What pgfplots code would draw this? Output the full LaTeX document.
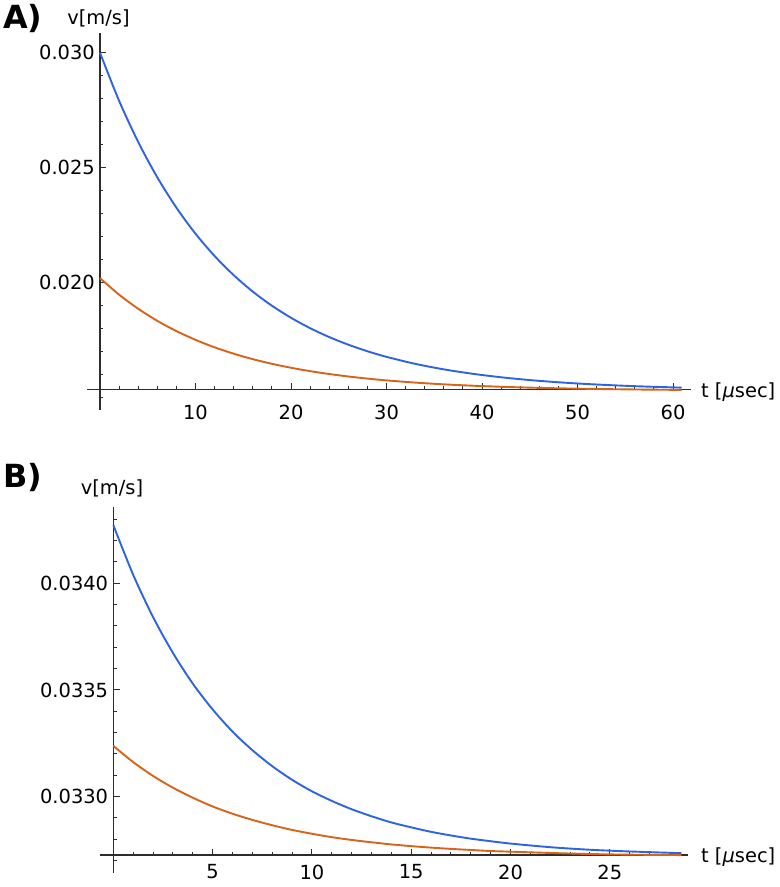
\documentclass[border=0pt]{standalone}
\usepackage{pgfplots}
\pgfplotsset{compat=1.18}
\usepackage{fontspec}
\setmainfont{DejaVu Sans}
\definecolor{mblue}{RGB}{45,100,225}
\definecolor{morange}{RGB}{215,100,25}
\definecolor{axgray}{RGB}{45,45,45}
\pgfplotsset{
  mstyle/.style={
    scale only axis,
    axis lines=middle,
    axis line style={-, axgray, line width=1.1bp},
    every tick/.style={axgray, line width=1bp},
    tick align=inside,
    major tick length=6.5bp,
    minor tick length=3.5bp,
    scaled y ticks=false,
    scaled x ticks=false,
    /pgf/number format/assume math mode=true,
    tick label style={font=\fontsize{19.5}{23}\selectfont, text=black},
    every axis plot/.append style={line width=1.9bp, smooth, no marks},
  }
}
\begin{document}
\begin{tikzpicture}
\path[use as bounding box] (0,0) rectangle (780bp,-887bp);
% Panel A
\begin{axis}[mstyle,
  at={(87bp,-410bp)}, anchor=south west,
  width=603.7bp, height=377bp,
  xmin=-1.36, xmax=61.85, ymin=0.014465, ymax=0.030857,
  axis x line shift=-20.5bp,
  xtick={10,20,30,40,50,60},
  minor xtick={2,4,...,60},
  ytick={0.020,0.025,0.030},
  minor ytick={0.015,0.016,0.017,0.018,0.019,0.021,0.022,0.023,0.024,0.026,0.027,0.028,0.029},
  yticklabel style={/pgf/number format/fixed, /pgf/number format/fixed zerofill, /pgf/number format/precision=3,
    anchor=east, inner sep=0pt, xshift=-5bp},
  xticklabel style={anchor=center, inner sep=0pt, yshift=-22.5bp},
]
\addplot[mblue] coordinates {
(0,0.030000) (2,0.027911) (4,0.026119) (6,0.024582) (8,0.023263) (10,0.022131)
(12,0.021161) (14,0.020328) (16,0.019613) (18,0.019000) (20,0.018475)
(22,0.018024) (24,0.017637) (26,0.017305) (28,0.017020) (30,0.016776)
(33,0.016473) (36,0.016232) (39,0.016041) (42,0.015888) (45,0.015767)
(48,0.015671) (51,0.015595) (54,0.015535) (57,0.015487) (60.9,0.015438)};
\addplot[morange] coordinates {
(0,0.020200) (2,0.019481) (4,0.018867) (6,0.018343) (8,0.017897) (10,0.017516)
(12,0.017190) (14,0.016913) (16,0.016676) (18,0.016474) (20,0.016302)
(22,0.016155) (24,0.016030) (26,0.015922) (28,0.015831) (30,0.015753)
(33,0.015657) (36,0.015581) (39,0.015522) (42,0.015475) (45,0.015438)
(48,0.015409) (51,0.015386) (54,0.015368) (57,0.015353) (60.9,0.015339)};
\end{axis}
% Panel B
\begin{axis}[mstyle,
  at={(100bp,-873bp)}, anchor=south west,
  width=588.3bp, height=366.3bp,
  xmin=-0.67, xmax=28.95, ymin=0.032642, ymax=0.034359,
  axis x line shift=-18bp,
  xtick={5,10,15,20,25},
  minor xtick={1,2,...,28},
  ytick={0.0330,0.0335,0.0340},
  minor ytick={0.0327,0.0328,0.0329,0.0331,0.0332,0.0333,0.0334,0.0336,0.0337,0.0338,0.0339,0.0341,0.0342,0.0343},
  yticklabel style={/pgf/number format/fixed, /pgf/number format/fixed zerofill, /pgf/number format/precision=4,
    anchor=east, inner sep=0pt, xshift=-5bp},
  xticklabel style={anchor=center, inner sep=0pt, yshift=-17bp},
]
\addplot[mblue] coordinates {
(0,0.034273) (1,0.034040) (2,0.033842) (3,0.033674) (4,0.033530) (5,0.033409)
(6,0.033305) (7,0.033218) (8,0.033143) (9,0.033079) (10,0.033025) (11,0.032980)
(12,0.032941) (13,0.032908) (14,0.032879) (15,0.032856) (16,0.032835)
(17,0.032818) (18,0.032803) (19,0.032791) (20,0.032780) (22,0.032763)
(24,0.032751) (26,0.032743) (28.6,0.032735)};
\addplot[morange] coordinates {
(0,0.033238) (1,0.033162) (2,0.033097) (3,0.033042) (4,0.032995) (5,0.032954)
(6,0.032920) (7,0.032891) (8,0.032866) (9,0.032844) (10,0.032826) (11,0.032810)
(12,0.032797) (13,0.032786) (14,0.032776) (15,0.032768) (16,0.032761)
(17,0.032755) (18,0.032750) (19,0.032745) (20,0.032742) (22,0.032736)
(24,0.032731) (26,0.032728) (28.6,0.032726)};
\end{axis}
% labels
\node[anchor=west, inner sep=0pt, font=\fontsize{32}{36}\selectfont\bfseries] at (3bp,-19bp) {A)};
\node[anchor=west, inner sep=0pt, font=\fontsize{32}{36}\selectfont\bfseries] at (3bp,-477bp) {B)};
\node[inner sep=0pt, font=\fontsize{19.5}{23}\selectfont] at (98.5bp,-18.5bp) {v[m/s]};
\node[inner sep=0pt, font=\fontsize{19.5}{23}\selectfont] at (112bp,-488bp) {v[m/s]};
\node[anchor=west, inner sep=0pt, font=\fontsize{19.5}{23}\selectfont] at (701bp,-392bp) {t [\textit{μ}sec]};
\node[anchor=west, inner sep=0pt, font=\fontsize{19.5}{23}\selectfont] at (701bp,-857bp) {t [\textit{μ}sec]};
\end{tikzpicture}
\end{document}
